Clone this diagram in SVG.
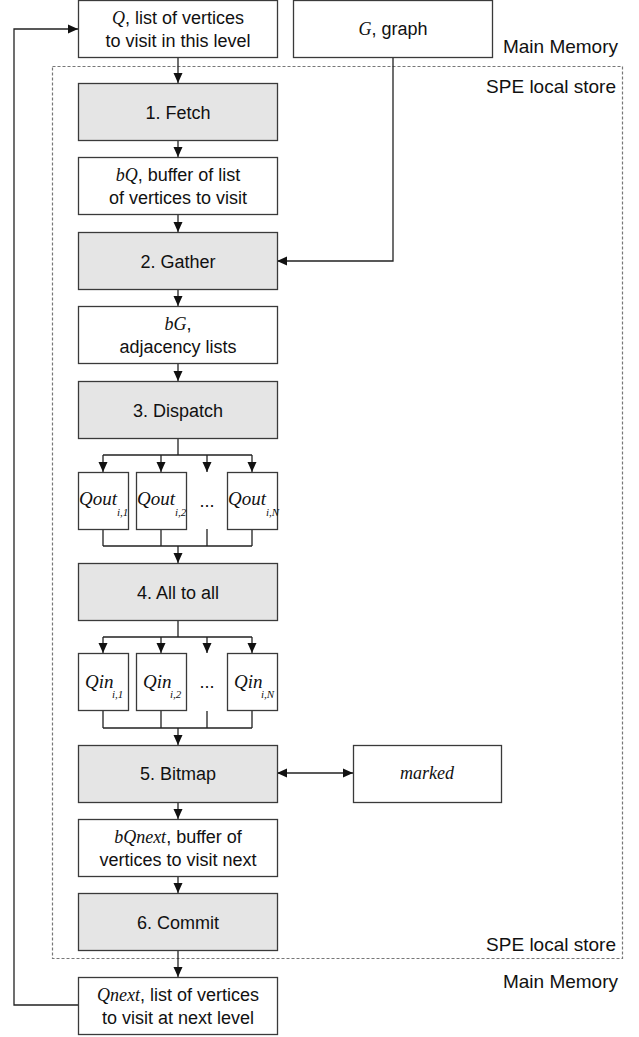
<svg xmlns="http://www.w3.org/2000/svg" width="639" height="1037" viewBox="0 0 639 1037">
<style>
.box{fill:#ffffff;stroke:#3a3a3a;stroke-width:1.3}
.step{fill:#e5e5e5;stroke:#3a3a3a;stroke-width:1.3}
.t{font-family:"Liberation Sans",Arial,sans-serif;font-size:18px;fill:#111;text-anchor:middle}
.lbl{font-family:"Liberation Sans",Arial,sans-serif;font-size:19px;fill:#111;text-anchor:end}
.i{font-family:"Liberation Serif","Times New Roman",serif;font-style:italic}
.q{font-family:"Liberation Serif","Times New Roman",serif;font-style:italic;font-size:19px;fill:#111}
.sub{font-family:"Liberation Serif","Times New Roman",serif;font-style:italic;font-size:11px;fill:#111}
.c{fill:none;stroke:#222;stroke-width:1.3}
.arr{fill:none;stroke:#222;stroke-width:1.3;marker-end:url(#ah)}
</style>
<defs>
<marker id="ah" markerUnits="userSpaceOnUse" markerWidth="10" markerHeight="10" viewBox="0 0 10 10" refX="10" refY="5" orient="auto">
<path d="M0,0.5 L10,5 L0,9.5 Z" fill="#111"/>
</marker>
<marker id="ahs" markerUnits="userSpaceOnUse" markerWidth="10" markerHeight="10" viewBox="0 0 10 10" refX="0" refY="5" orient="auto">
<path d="M10,0.5 L0,5 L10,9.5 Z" fill="#111"/>
</marker>
</defs>

<g id="region">
<rect x="52.5" y="66.5" width="570" height="892" fill="none" stroke="#777" stroke-width="1.2" stroke-dasharray="3,2"/>
<text class="lbl" x="618" y="53">Main Memory</text>
<text class="lbl" x="616" y="93">SPE local store</text>
<text class="lbl" x="616" y="951">SPE local store</text>
<text class="lbl" x="618" y="988">Main Memory</text>
</g>

<g id="connectors">
<path class="arr" d="M178,57 V83"/>
<path class="arr" d="M178,140 V157"/>
<path class="arr" d="M178,215 V232"/>
<path class="arr" d="M393,57 V261 H277"/>
<path class="arr" d="M178,289 V306"/>
<path class="arr" d="M178,364 V381"/>
<path class="c" d="M178,438 V455 M103,455 H252" stroke-width="1.6"/>
<path class="arr" d="M103,455 V472"/>
<path class="arr" d="M161,455 V472"/>
<path class="arr" d="M207,455 V472"/>
<path class="arr" d="M252,455 V472"/>
<path class="c" d="M103,529 V546 M161,529 V546 M207,529 V546 M252,529 V546 M103,546 H252"/>
<path class="arr" d="M178,546 V563"/>
<path class="c" d="M178,621 V637 M103,637 H252" stroke-width="1.6"/>
<path class="arr" d="M103,637 V653"/>
<path class="arr" d="M161,637 V653"/>
<path class="arr" d="M207,637 V653"/>
<path class="arr" d="M252,637 V653"/>
<path class="c" d="M103,711 V728 M161,711 V728 M207,711 V728 M252,711 V728 M103,728 H252"/>
<path class="arr" d="M178,728 V745"/>
<path class="c" d="M277,773 H353" marker-start="url(#ahs)" marker-end="url(#ah)"/>
<path class="arr" d="M178,802 V819"/>
<path class="arr" d="M178,877 V893"/>
<path class="arr" d="M178,951 V977"/>
<path class="arr" d="M78,1005 H14 V29 H78"/>
</g>

<g id="node-Q">
<rect class="box" x="78.5" y="0.5" width="199" height="57"/>
<text class="t" x="178" y="23.5"><tspan class="i">Q</tspan>, list of vertices</text>
<text class="t" x="178" y="46.5">to visit in this level</text>
</g>
<g id="node-G">
<rect class="box" x="293.5" y="0.5" width="199" height="57"/>
<text class="t" x="393" y="35"><tspan class="i">G</tspan>, graph</text>
</g>
<g id="node-fetch">
<rect class="step" x="78.5" y="83.5" width="199" height="57"/>
<text class="t" x="178" y="118.5">1. Fetch</text>
</g>
<g id="node-bQ">
<rect class="box" x="78.5" y="157.5" width="199" height="57"/>
<text class="t" x="178" y="181"><tspan class="i">bQ</tspan>, buffer of list</text>
<text class="t" x="178" y="204">of vertices to visit</text>
</g>
<g id="node-gather">
<rect class="step" x="78.5" y="232.5" width="199" height="57"/>
<text class="t" x="178" y="267.5">2. Gather</text>
</g>
<g id="node-bG">
<rect class="box" x="78.5" y="306.5" width="199" height="57"/>
<text class="t" x="178" y="330"><tspan class="i">bG</tspan>,</text>
<text class="t" x="178" y="353">adjacency lists</text>
</g>
<g id="node-dispatch">
<rect class="step" x="78.5" y="381.5" width="199" height="57"/>
<text class="t" x="178" y="416.5">3. Dispatch</text>
</g>
<g id="node-qout1">
<rect class="box" x="78.5" y="472.5" width="50" height="57"/>
<text class="q" x="79" y="505">Qout</text><text class="sub" x="117" y="516">i,1</text>
</g>
<g id="node-qout2">
<rect class="box" x="136.5" y="472.5" width="50" height="57"/>
<text class="q" x="137" y="505">Qout</text><text class="sub" x="175" y="516">i,2</text>
</g>
<g id="node-qoutdots">
<text class="t" x="207" y="507">...</text>
</g>
<g id="node-qoutN">
<rect class="box" x="227.5" y="472.5" width="50" height="57"/>
<text class="q" x="228" y="505">Qout</text><text class="sub" x="266" y="516">i,N</text>
</g>
<g id="node-alltoall">
<rect class="step" x="78.5" y="563.5" width="199" height="57"/>
<text class="t" x="178" y="598.5">4. All to all</text>
</g>
<g id="node-qin1">
<rect class="box" x="78.5" y="653.5" width="50" height="57"/>
<text class="q" x="85" y="688">Qin</text><text class="sub" x="112" y="698">i,1</text>
</g>
<g id="node-qin2">
<rect class="box" x="136.5" y="653.5" width="50" height="57"/>
<text class="q" x="143" y="688">Qin</text><text class="sub" x="170" y="698">i,2</text>
</g>
<g id="node-qindots">
<text class="t" x="207" y="688">...</text>
</g>
<g id="node-qinN">
<rect class="box" x="227.5" y="653.5" width="50" height="57"/>
<text class="q" x="234" y="688">Qin</text><text class="sub" x="261" y="698">i,N</text>
</g>
<g id="node-bitmap">
<rect class="step" x="78.5" y="745.5" width="199" height="57"/>
<text class="t" x="178" y="780">5. Bitmap</text>
</g>
<g id="node-marked">
<rect class="box" x="353.5" y="745.5" width="148" height="57"/>
<text class="t i" x="427" y="779">marked</text>
</g>
<g id="node-bQnext">
<rect class="box" x="78.5" y="819.5" width="199" height="57"/>
<text class="t" x="178" y="843"><tspan class="i">bQnext</tspan>, buffer of</text>
<text class="t" x="178" y="866">vertices to visit next</text>
</g>
<g id="node-commit">
<rect class="step" x="78.5" y="893.5" width="199" height="57"/>
<text class="t" x="178" y="928.5">6. Commit</text>
</g>
<g id="node-Qnext">
<rect class="box" x="78.5" y="977.5" width="199" height="57"/>
<text class="t" x="178" y="1001"><tspan class="i">Qnext</tspan>, list of vertices</text>
<text class="t" x="178" y="1024">to visit at next level</text>
</g>
</svg>
